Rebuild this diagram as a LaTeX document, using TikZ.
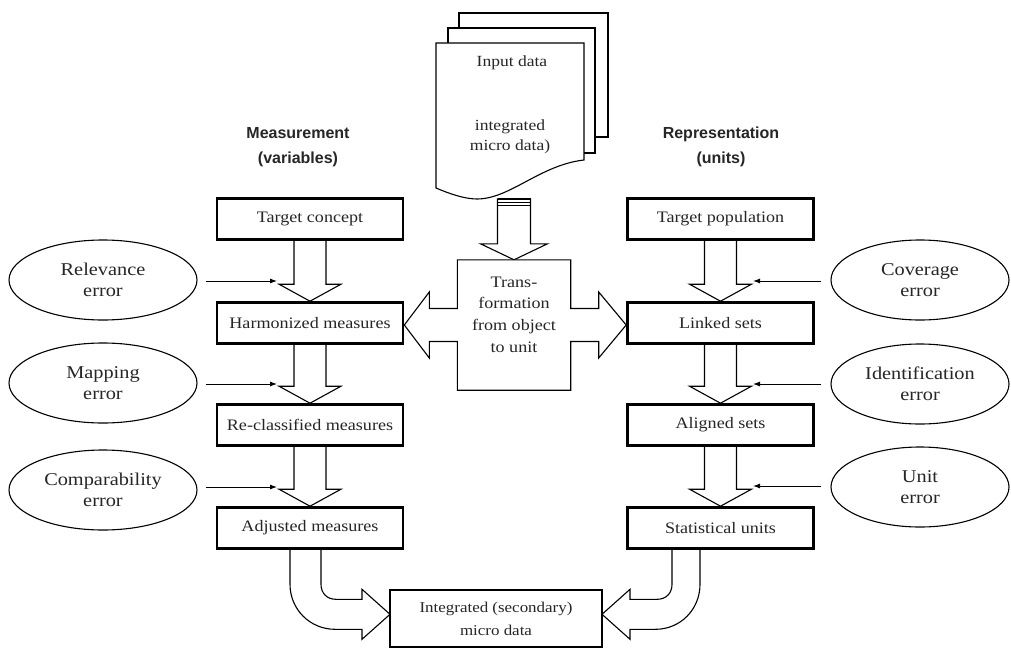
\documentclass[tikz,border=0pt]{standalone}
\usepackage{fontspec}
\setmainfont{Liberation Serif}[FakeStretch=1.13]
\newfontfamily\hdrfont{Liberation Sans}
\usetikzlibrary{calc,arrows.meta,shapes.geometric}
\pgfdeclarelayer{background}
\pgfsetlayers{background,main}
\begin{document}
\begin{tikzpicture}[x=1pt,y=-1pt,
  box/.style={draw, line width=2.6pt, fill=white, minimum width=186pt, minimum height=41pt, inner sep=0pt, text=black!85, font=\fontsize{16}{18}\selectfont},
  err/.style={draw, ellipse, line width=1.1pt, minimum width=188pt, minimum height=80pt, inner sep=0pt, align=center, text=black!85, font=\fontsize{18}{21}\selectfont},
  blk/.style={draw, fill=white, line width=1.1pt, line join=miter},
  page/.style={draw, fill=white, line width=1.1pt},
  txt/.style={inner sep=0pt, align=center, text=black!85, font=\fontsize{15.5}{20}\selectfont},
  hdr/.style={inner sep=0pt, align=center, text=black!85, font=\hdrfont\bfseries\fontsize{16}{25}\selectfont},
  small/.style={-{Latex[length=7pt,width=5pt]}, line width=0.9pt}]
\useasboundingbox (0,0) rectangle (1011,650);

% boxes
\node[box] (tc) at (310,219) {Target concept};
\node[box] (hm) at (310,323) {Harmonized measures};
\node[box] (rc) at (310,425) {Re-classified measures};
\node[box] (am) at (310,528) {Adjusted measures};
\node[box] (tp) at (720.5,219) {Target population};
\node[box] (ls) at (720.5,323) {Linked sets};
\node[box] (as) at (720.5,425) {Aligned sets};
\node[box] (su) at (720.5,528) {Statistical units};
\node[box, minimum width=212pt, minimum height=57pt, align=center, font=\fontsize{15}{23}\selectfont] (ig) at (496,618.5) {Integrated (secondary)\\micro data};

% error ellipses
\node[err] (rel) at (103,280) {Relevance\\error};
\node[err] (map) at (103,383) {Mapping\\error};
\node[err] (com) at (103,490) {Comparability\\error};
\node[err, minimum width=178pt] (cov) at (920,280) {Coverage\\error};
\node[err, minimum width=178pt] (idf) at (920,384) {Identification\\error};
\node[err, minimum width=178pt] (uni) at (920,487) {Unit\\error};

% headers
\node[hdr] (mh) at (298,147) {Measurement\\(variables)};
\node[hdr] (rh) at (721,147) {Representation\\(units)};

% transformation node
\node[minimum width=113pt, minimum height=130pt, inner sep=0pt] (trans) at (514,325) {};
\node[txt, font=\fontsize{16}{21.7}\selectfont] (ttx) at (514,314.5) {Trans-\\formation\\from object\\to unit};

% document text
\node[txt] (in1) at (512,63) {Input data};
\node[txt] (in2) at (510,137) {integrated\\micro data)};

% targets of small arrows
\coordinate (relT) at (277,281);
\coordinate (mapT) at (277,384);
\coordinate (comT) at (277,487);
\coordinate (covT) at (753,281);
\coordinate (idfT) at (753,384);
\coordinate (uniT) at (753,486);

\draw[small] ($(rel.east)+(8,1)$) -- (relT);
\draw[small] ($(map.east)+(8,1)$) -- (mapT);
\draw[small] ($(com.east)+(8,-3)$) -- (comT);
\draw[small] ($(cov.west)+(-9,1)$) -- (covT);
\draw[small] ($(idf.west)+(-9,0)$) -- (idfT);
\draw[small] ($(uni.west)+(-9,-1)$) -- (uniT);

\newcommand\vblk[2]{\draw[blk] ($(#1.south)+(-16,0)$) -- ($(#2.north)+(-16,-17)$) -- ($(#2.north)+(-31,-17)$) -- (#2.north) -- ($(#2.north)+(31,-17)$) -- ($(#2.north)+(16,-17)$) -- ($(#1.south)+(16,0)$);}

\begin{pgfonlayer}{background}
\fill[white] (0,0) rectangle (1011,650);
% stacked pages
\draw[page] (459,13) rectangle (608,137);
\draw[page] (448,28) rectangle (595,153);
\draw[page] (436,43) -- (584,43) -- (584,160) .. controls (540,165) and (510,199) .. (477,199) .. controls (465,199) and (450,194) .. (436,188) -- cycle;
% arrow from document to transformation
\draw[blk] ($(trans.north)+(-16.5,-61)$) -- ($(trans.north)+(-16.5,-16)$) -- ($(trans.north)+(-33.5,-16)$) -- (trans.north) -- ($(trans.north)+(33.5,-16)$) -- ($(trans.north)+(16.5,-16)$) -- ($(trans.north)+(16.5,-61)$) -- cycle;
\draw[line width=2pt] ($(trans.north)+(-16.5,-60.5)$) -- ++(33,0);
\draw[line width=1pt] ($(trans.north)+(-16.5,-57.5)$) -- ++(33,0);
\draw[line width=1pt] ($(trans.north)+(-16.5,-54.5)$) -- ++(33,0);
% transformation shape with double arrow
\draw[blk] (trans.north west) -- (trans.north east) -- ($(trans.east)+(0,-16.5)$) -- ($(trans.east)+(28,-16.5)$) -- ($(trans.east)+(28,-33)$) -- (ls.west |- trans.east) -- ($(trans.east)+(28,33)$) -- ($(trans.east)+(28,16.5)$) -- ($(trans.east)+(0,16.5)$) -- (trans.south east) -- (trans.south west) -- ($(trans.west)+(0,16.5)$) -- ($(trans.west)+(-28,16.5)$) -- ($(trans.west)+(-28,33)$) -- (hm.east |- trans.west) -- ($(trans.west)+(-28,-33)$) -- ($(trans.west)+(-28,-16.5)$) -- ($(trans.west)+(0,-16.5)$) -- cycle;
% vertical block arrows
\vblk{tc}{hm}
\vblk{hm}{rc}
\vblk{rc}{am}
\vblk{tp}{ls}
\vblk{ls}{as}
\vblk{as}{su}
% curved arrows into integrated data
\begin{scope}[shift={(am.south)}]
\draw[blk] (-20,0) -- (-20,34.5) .. controls (-20,59.5) and (0,79.5) .. (25,79.5) -- (52,79.5) -- (52,89.5) -- (80,64.5) -- (52,39.5) -- (52,49.5) -- (26,49.5) .. controls (17,49.5) and (11,43.5) .. (11,34.5) -- (11,0);
\end{scope}
\begin{scope}[shift={(su.south)}]
\draw[blk] (-20.5,0) -- (-20.5,34.5) .. controls (-20.5,59.5) and (-40,79.5) .. (-65,79.5) -- (-90.5,79.5) -- (-90.5,89.5) -- (-118.5,64.5) -- (-90.5,39.5) -- (-90.5,49.5) -- (-63.5,49.5) .. controls (-54.5,49.5) and (-48.5,43.5) .. (-48.5,34.5) -- (-48.5,0);
\end{scope}
\end{pgfonlayer}
\end{tikzpicture}
\end{document}
